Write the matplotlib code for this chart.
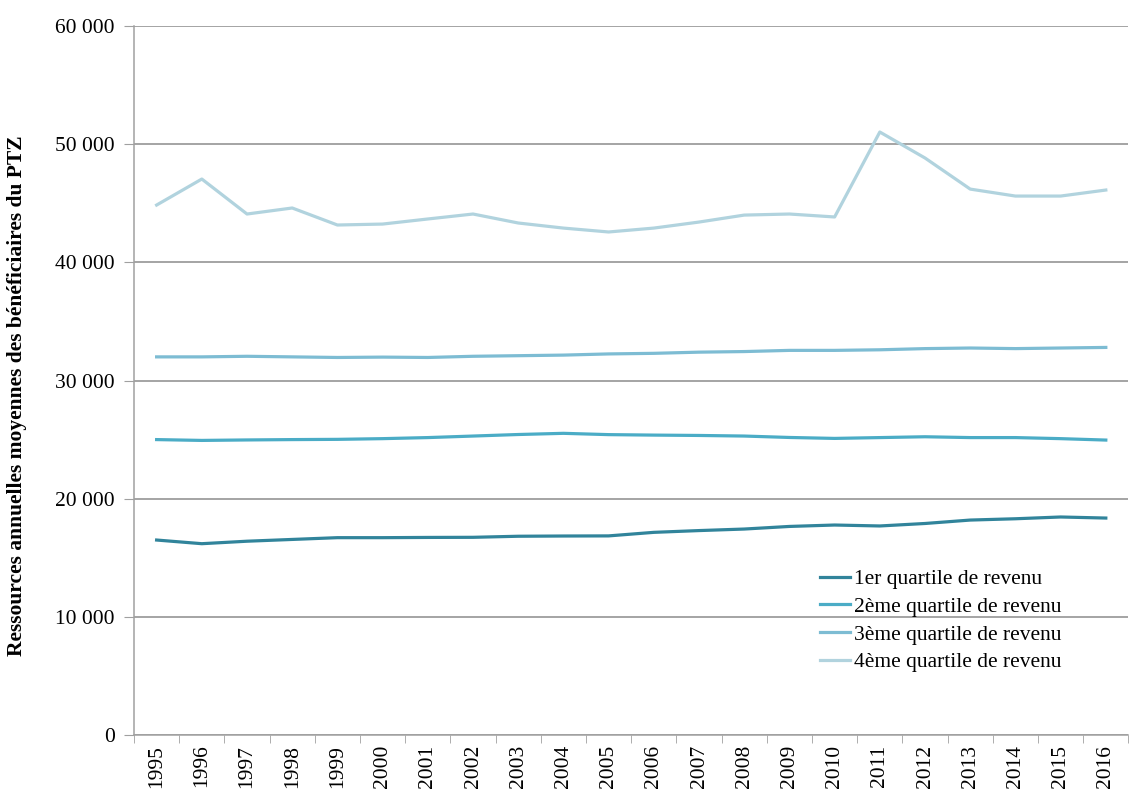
import numpy as np
import matplotlib
matplotlib.use("Agg")
import matplotlib.pyplot as plt
from matplotlib.ticker import FuncFormatter, FixedLocator

# Data
years = [str(y) for y in range(1995, 2017)]
q1 = [16500, 16190, 16400, 16550, 16700, 16700, 16720, 16730, 16820, 16840, 16850,
      17150, 17300, 17430, 17650, 17770, 17690, 17900, 18190, 18300, 18450, 18360]
q2 = [25000, 24930, 24970, 25000, 25020, 25080, 25170, 25300, 25430, 25530, 25420,
      25380, 25350, 25300, 25180, 25100, 25170, 25240, 25170, 25170, 25080, 24960]
q3 = [32000, 32000, 32050, 32000, 31950, 31980, 31950, 32050, 32100, 32150, 32250,
      32300, 32400, 32450, 32550, 32550, 32600, 32700, 32750, 32700, 32750, 32800]
q4 = [44850, 47050, 44090, 44600, 43160, 43240, 43670, 44090, 43330, 42900, 42570,
      42900, 43410, 44000, 44090, 43840, 51030, 48830, 46200, 45610, 45610, 46120]
labels = ["1er quartile de revenu", "2ème quartile de revenu",
          "3ème quartile de revenu", "4ème quartile de revenu"]
colors = ["#31849B", "#4BACC6", "#7DBCD3", "#B1D3DE"]

plt.rcParams['font.family'] = ['Liberation Serif', 'DejaVu Serif']
FS = 15.5

fig = plt.figure(figsize=(11.3, 7.91), dpi=100)
ax = fig.add_axes([0.1186, 0.0708, 0.880, 0.8963])

x = np.arange(len(years))
for series, lab, col in zip([q1, q2, q3, q4], labels, colors):
    ax.plot(x, series, color=col, lw=2.3, label=lab, solid_joinstyle='round')

ax.set_xlim(-0.5, len(years) - 0.5)
ax.set_ylim(0, 60000)
ax.set_yticks(range(0, 60001, 10000))
ax.yaxis.set_major_formatter(FuncFormatter(lambda v, p: f"{int(v):,}".replace(",", " ")))
ax.yaxis.grid(True, color='#8c8c8c', lw=1.1)
ax.set_axisbelow(True)

# category axis: labels at centers, ticks at boundaries
ax.set_xticks(x)
ax.set_xticklabels(years, rotation=90, fontsize=FS)
ax.tick_params(axis='x', which='major', length=0, pad=7)
ax.xaxis.set_minor_locator(FixedLocator(np.arange(-0.5, len(years), 1)))
ax.tick_params(axis='x', which='minor', length=6, color='#a0a0a0')
ax.tick_params(axis='y', length=7, color='#a0a0a0', labelsize=FS, pad=7)

for s in ['top', 'right']:
    ax.spines[s].set_visible(False)
for s in ['left', 'bottom']:
    ax.spines[s].set_color('#a0a0a0')
    ax.spines[s].set_linewidth(1.1)

ax.set_ylabel("Ressources annuelles moyennes des bénéficiaires du PTZ",
              fontsize=FS, fontweight='bold')
ax.yaxis.set_label_coords(-0.1074, 0.478)

ax.legend(loc='upper left', bbox_to_anchor=(0.675, 0.255), frameon=False,
          fontsize=FS, handlelength=1.4, handletextpad=0.15, labelspacing=0.35,
          borderpad=0.2)

fig.savefig("out.png", dpi=100)
